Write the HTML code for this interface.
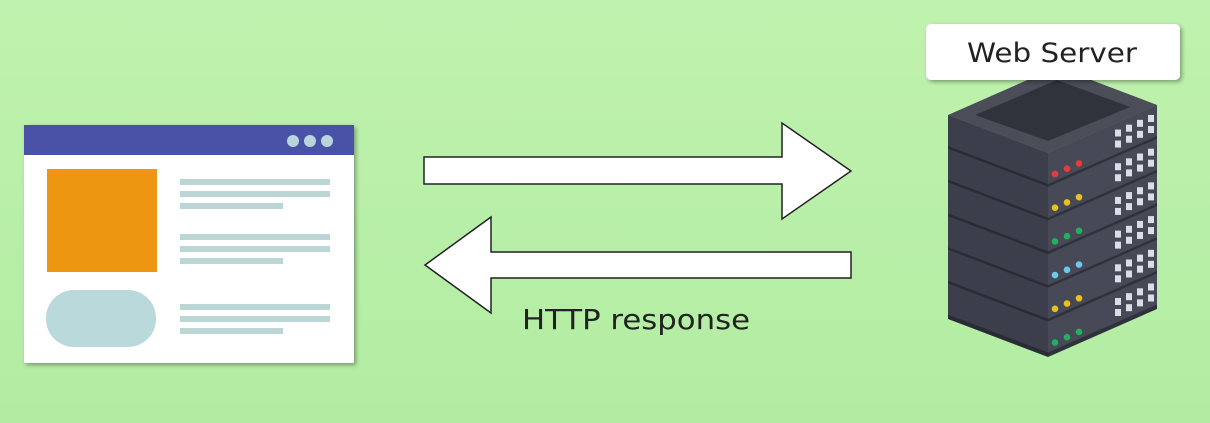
<!DOCTYPE html>
<html><head><style>
html,body{margin:0;padding:0}
body{width:1210px;height:423px;overflow:hidden;background:linear-gradient(180deg,#bff2ae,#b2eca2);font-family:"Liberation Sans",sans-serif;position:relative}
</style></head><body>
<svg width="1210" height="423" style="position:absolute;left:0;top:0">
<defs><filter id="sh" x="-10%" y="-10%" width="130%" height="130%"><feDropShadow dx="2" dy="2" stdDeviation="2" flood-color="#000" flood-opacity="0.35"/></filter></defs>
<g filter="url(#sh)">
<rect x="24" y="125" width="330" height="238" fill="#fff"/>
</g>
<rect x="24" y="125" width="330" height="30" fill="#4a52a8"/>
<circle cx="293" cy="141" r="6" fill="#b8d4dc"/><circle cx="310" cy="141" r="6" fill="#b8d4dc"/><circle cx="327" cy="141" r="6" fill="#b8d4dc"/>
<rect x="47" y="169" width="110" height="103" fill="#ec9612"/>
<rect x="46" y="290" width="110" height="57" rx="28" fill="#b9d9da"/>
<g fill="#bcd6d6">
<rect x="180" y="179" width="150" height="6"/><rect x="180" y="191" width="150" height="6"/><rect x="180" y="203" width="103" height="6"/>
<rect x="180" y="234" width="150" height="6"/><rect x="180" y="246" width="150" height="6"/><rect x="180" y="258" width="103" height="6"/>
<rect x="180" y="304" width="150" height="6"/><rect x="180" y="316" width="150" height="6"/><rect x="180" y="328" width="103" height="6"/>
</g>
<polygon points="424,157 782,157 782,123 851,171 782,219 782,184 424,184" fill="#fff" stroke="#222" stroke-width="1.5"/>
<polygon points="851,252 491,252 491,217 425,265 491,313 491,278 851,278" fill="#fff" stroke="#222" stroke-width="1.5"/>
<text x="522" y="329" font-size="28" fill="#222" font-family="DejaVu Sans, sans-serif" textLength="228" lengthAdjust="spacingAndGlyphs">HTTP response</text>
<polygon points="948,115 1048,153 1048,357 948,319" fill="#2a2c35"/>
<polygon points="1048,153 1157,105 1157,309 1048,357" fill="#30323b"/>
<g id="slabs"></g>
<polygon points="948,115 1057,67 1157,105 1048,153" fill="#4b4e59"/>
<polygon points="975,115 1057,80 1130,107 1048,141" fill="#30333c"/>
<g filter="url(#sh)"><rect x="926" y="24" width="254" height="56" rx="5" fill="#fff"/></g>
<text x="967" y="62" font-size="27" fill="#222" font-family="DejaVu Sans, sans-serif" textLength="170" lengthAdjust="spacingAndGlyphs">Web Server</text>
</svg>
<script>
var g=document.getElementById('slabs'),s='';
var cols=['#e83a3a','#e8c020','#20b060','#6cc8ec','#e8c020','#20b060'];
for(var i=0;i<6;i++){var yt=153+33.7*i;
s+='<polygon points="948,'+(yt-38)+' 1048,'+yt+' 1048,'+(yt+31)+' 948,'+(yt-7)+'" fill="#3c3f4b"/>';
s+='<polygon points="1048,'+yt+' 1157,'+(yt-48)+' 1157,'+(yt-17)+' 1048,'+(yt+31)+'" fill="#474a56"/>';
for(var k=0;k<3;k++){var x=1055+12*k,y=yt+24-0.44*(x-1055)-3;s+='<circle cx="'+x+'" cy="'+y+'" r="3.3" fill="'+cols[i]+'"/>';}
for(var c=0;c<4;c++)for(var r=0;r<2;r++){var x=1115+11*c,y=yt+6+r*11-0.44*(x-1048);s+='<rect x="'+x+'" y="'+y+'" width="6" height="7" fill="#dcdde6"/>';}
}
g.innerHTML=s;
</script>
</body></html>
